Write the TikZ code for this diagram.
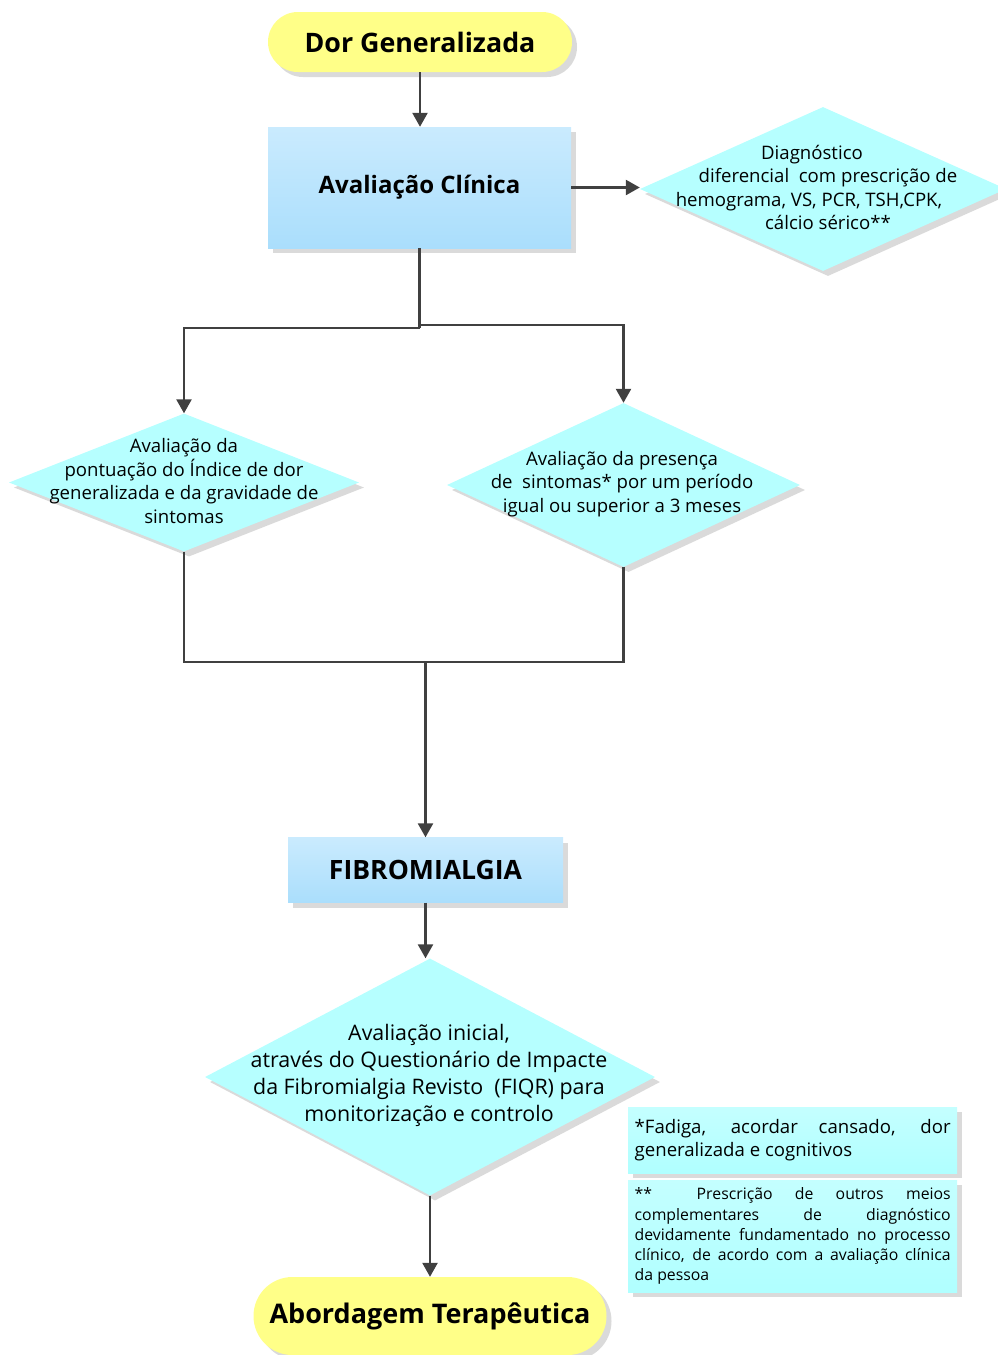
\documentclass[tikz,border=0pt]{standalone}
\usepackage{fontspec}
\setmainfont{Open Sans}
\usetikzlibrary{shapes.geometric,arrows.meta,shadows}
\definecolor{ylw}{RGB}{255,255,136}
\definecolor{bluetop}{RGB}{202,235,254}
\definecolor{bluebot}{RGB}{170,222,252}
\definecolor{cyanfill}{RGB}{182,255,255}
\definecolor{notetop}{RGB}{196,255,255}
\definecolor{notebot}{RGB}{176,255,255}
\definecolor{linec}{RGB}{64,64,64}
\definecolor{shadowc}{RGB}{218,218,218}
\begin{document}
\begin{tikzpicture}[x=1pt,y=-1pt,
  shd/.style={drop shadow={shadow xshift=5pt,shadow yshift=-5pt,fill=shadowc,opacity=1}},
  terminal/.style={shd,rectangle,fill=ylw,inner sep=0pt,font=\fontsize{26.8}{30}\selectfont\bfseries},
  procbox/.style={shd,rectangle,top color=bluetop,bottom color=bluebot,inner sep=0pt,font=\fontsize{24}{28}\selectfont\bfseries},
  decision/.style={shd,diamond,fill=cyanfill,inner sep=0pt,aspect=1},
  dtext/.style={align=center,inner sep=0pt,font=\fontsize{18.6}{23.5}\selectfont},
  notebox/.style={shd,rectangle,top color=notetop,bottom color=notebot,inner xsep=6.5pt,inner ysep=0pt,align=justify,anchor=north west},
  ln/.style={draw=linec,line width=2.5pt},
  arr/.style={ln,-{Triangle[length=14pt,width=15pt]}}
]
\useasboundingbox (0,0) rectangle (998,1355);

% nodes
\node[terminal,rounded corners=29.9pt,minimum width=304pt,minimum height=60pt] (dor) at (420,42) {Dor Generalizada};
\node[procbox,minimum width=303pt,minimum height=121pt] (aval) at (419.5,187.5) {Avaliação Clínica};

\node[decision,minimum width=366pt,minimum height=164pt] (d0) at (823,189) {};
\node[dtext] (t0) at (820,187.5) {Diagnóstico\hspace*{16pt}\\ \hspace*{16pt}diferencial~ com prescrição de\\ \hspace*{-22pt}hemograma, VS, PCR, TSH,CPK,\\ \hspace*{16pt}cálcio sérico**};

\node[decision,minimum width=350pt,minimum height=138pt] (d1) at (184,482.5) {};
\node[dtext] (t1) at (184,481) {Avaliação da\\ pontuação do Índice de dor\\ generalizada e da gravidade de\\ sintomas};

\node[decision,minimum width=353pt,minimum height=164pt] (d2) at (623.5,485) {};
\node[dtext] (t2) at (622,484) {Avaliação da presença\\ de~ sintomas* por um período\\ igual ou superior a 3 meses};

\node[procbox,minimum width=275pt,minimum height=65pt,font=\fontsize{26.6}{30}\selectfont\bfseries] (fib) at (425.5,870) {FIBROMIALGIA};

\node[decision,minimum width=450pt,minimum height=237pt] (d3) at (430,1077) {};
\node[dtext,font=\fontsize{21.4}{27}\selectfont] (t3) at (429,1075.5) {Avaliação inicial,\\ através do Questionário de Impacte\\ da Fibromialgia Revisto~ (FIQR) para\\ monitorização e controlo};

\node[terminal,rounded corners=38.9pt,minimum width=353pt,minimum height=78pt,font=\fontsize{27}{32}\selectfont\bfseries] (abo) at (430,1316) {Abordagem Terapêutica};

\node[notebox,text width=316pt,minimum height=66pt,font=\fontsize{18.6}{23}\selectfont] (n1) at (628,1107) {*Fadiga, acordar cansado, dor\linebreak generalizada e cognitivos};
\node[notebox,text width=316pt,minimum height=112pt,font=\fontsize{15.8}{20.3}\selectfont] (n2) at (628,1180) {**~ Prescrição de outros meios\linebreak complementares de diagnóstico\linebreak devidamente fundamentado no processo\linebreak clínico, de acordo com a avaliação clínica\linebreak da pessoa};

% connectors
\coordinate (jl) at (0,328);
\coordinate (jr) at (0,325);
\coordinate (jm) at (0,662);
\draw[arr] (dor.south) -- (dor.south |- aval.north);
\draw[arr] (aval.east) -- (aval.east -| d0.west);
\draw[ln] (aval.south) -- (aval.south |- jl);
\draw[arr] (aval.south |- jl) -| (d1.north);
\draw[arr] (aval.south |- jr) -| (d2.north);
\draw[ln] (d1.south) -- (d1.south |- jm) -- (d2.south |- jm) -- (d2.south);
\draw[arr] (fib.north |- jm) -- (fib.north);
\draw[arr] (fib.south) -- (fib.south |- d3.north);
\draw[arr] (d3.south) -- (abo.north);
\end{tikzpicture}
\end{document}
